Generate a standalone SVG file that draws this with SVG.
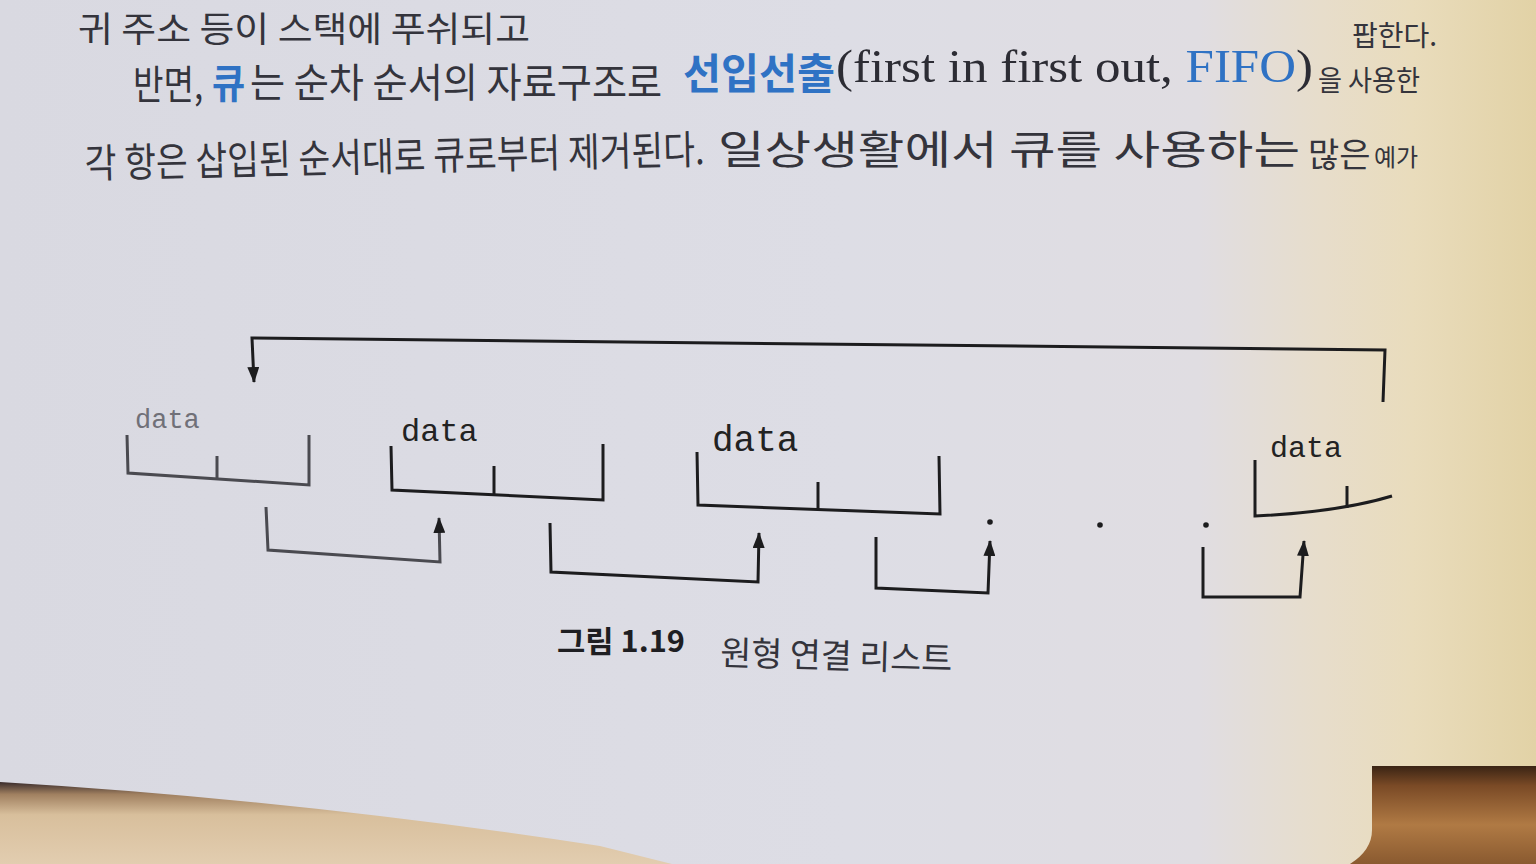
<svg xmlns="http://www.w3.org/2000/svg" width="1536" height="864" viewBox="0 0 1536 864">
<style>
.kr{font-family:"Noto Sans CJK KR","Noto Sans",sans-serif;fill:#34343c}
.sf{font-family:"Liberation Serif","DejaVu Serif",serif;fill:#2c2c34}
.bl{fill:#2f72c4}
.kr .bl,.sf .bl,.kr.bl{fill:#2f72c4}
.mono{font-family:"Liberation Mono","DejaVu Sans Mono",monospace;fill:#222}
.ln{fill:none;stroke:#1c1c1e;stroke-width:3;stroke-linejoin:miter}
.ln.lt{stroke:#4a4a50}
</style>
<defs>
<linearGradient id="pg" x1="0" y1="0" x2="1" y2="0">
<stop offset="0" stop-color="#d9d9e1"/>
<stop offset="0.55" stop-color="#dddde5"/>
<stop offset="0.78" stop-color="#e0dde2"/>
<stop offset="0.86" stop-color="#e7ddcb"/>
<stop offset="0.92" stop-color="#e9dcbc"/>
<stop offset="1" stop-color="#e2d2a6"/>
</linearGradient>
<linearGradient id="wood" x1="0" y1="0" x2="0" y2="1">
<stop offset="0" stop-color="#3a2414"/>
<stop offset="0.2" stop-color="#7a4a26"/>
<stop offset="0.6" stop-color="#b07a44"/>
<stop offset="1" stop-color="#8a5a30"/>
</linearGradient>
<linearGradient id="tbl" x1="0" y1="0" x2="0" y2="1">
<stop offset="0" stop-color="#3a2c2c"/>
<stop offset="0.15" stop-color="#a08060"/>
<stop offset="0.4" stop-color="#d8bf9c"/>
<stop offset="1" stop-color="#e2cdb0"/>
</linearGradient>
<marker id="ah" viewBox="0 0 16 12" refX="15" refY="6" markerWidth="16" markerHeight="12" markerUnits="userSpaceOnUse" orient="auto">
<path d="M0,0 L16,6 L0,12 z" fill="#1c1c1e"/>
</marker>
</defs>

<!-- page background -->
<rect x="0" y="0" width="1536" height="864" fill="url(#pg)"/>
<!-- wood at right bottom -->
<path d="M1372,766 L1536,766 L1536,864 L1350,864 Q1372,850 1372,830 Z" fill="url(#wood)"/>
<!-- table below page edge at left -->
<path d="M0,782 Q300,800 600,846 L672,864 L0,864 Z" fill="url(#tbl)"/>

<!-- body text -->
<g id="text-top">
<text class="kr" font-size="35" x="78" y="42" textLength="452" lengthAdjust="spacingAndGlyphs">귀 주소 등이 스택에 푸쉬되고</text>
<text class="kr" font-size="28" x="1352" y="46">팝한다.</text>

<text class="kr" font-size="40" transform="translate(133 99) scale(0.83 1)">반면,</text>
<text class="kr bl" font-size="40" font-weight="bold" transform="translate(212 98) scale(0.9 1)">큐</text>
<text class="kr" font-size="40" transform="translate(250 97) scale(0.955 1)">는 순차 순서의 자료구조로</text>
<text class="kr bl" font-size="42" font-weight="bold" x="683" y="89" textLength="152" lengthAdjust="spacingAndGlyphs">선입선출</text>
<text class="sf" font-size="46" x="836" y="82" textLength="477" lengthAdjust="spacingAndGlyphs">(first in first out, <tspan class="bl">FIFO</tspan>)</text>
<text class="kr" font-size="28" x="1318" y="91" textLength="102" lengthAdjust="spacingAndGlyphs">을 사용한</text>

<text class="kr" font-size="40" transform="rotate(-1.3 85 178)" x="85" y="178" textLength="620" lengthAdjust="spacingAndGlyphs">각 항은 삽입된 순서대로 큐로부터 제거된다.</text>
<text class="kr" font-size="40" x="718" y="164" textLength="582" lengthAdjust="spacingAndGlyphs">일상생활에서 큐를 사용하는</text>
<text class="kr" font-size="34" x="1308" y="167">많은</text>
<text class="kr" font-size="24" x="1374" y="166">예가</text>
</g>

<!-- connectors -->
<g id="connectors">
<path class="ln" d="M1383,402 L1385,350 L252,338 L254,382" marker-end="url(#ah)"/>
<path class="ln lt" d="M266,507 L268,550 L440,562 L439,518" marker-end="url(#ah)"/>
<path class="ln" d="M550,523 L551,572 L758,582 L759,533" marker-end="url(#ah)"/>
<path class="ln" d="M876,537 L876,588 L988,593 L990,541" marker-end="url(#ah)"/>
<path class="ln" d="M1203,547 L1203,597 L1300,597 L1304,541" marker-end="url(#ah)"/>
</g>

<!-- nodes -->
<g id="node1">
<text class="mono" style="fill:#707078" font-size="27" x="135" y="428">data</text>
<path class="ln lt" d="M127,435 L128,473 L309,485 L309,435"/>
<path class="ln lt" d="M217,456 L217,478"/>
</g>
<g id="node2">
<text class="mono" font-size="32" x="401" y="441">data</text>
<path class="ln" d="M391,446 L392,490 L603,500 L603,444"/>
<path class="ln" d="M494,466 L494,495"/>
</g>
<g id="node3">
<text class="mono" font-size="36" x="712" y="451">data</text>
<path class="ln" d="M697,452 L698,505 L940,514 L939,456"/>
<path class="ln" d="M818,482 L818,510"/>
</g>
<g id="dots">
<circle cx="990" cy="522" r="2.8" fill="#1c1c1e"/>
<circle cx="1100" cy="525" r="2.8" fill="#1c1c1e"/>
<circle cx="1206" cy="525" r="2.8" fill="#1c1c1e"/>
</g>
<g id="node4">
<text class="mono" font-size="30" x="1270" y="457">data</text>
<path class="ln" d="M1255,460 L1255,516 Q1340,512 1392,496"/>
<path class="ln" d="M1347,486 L1347,508" stroke-width="2"/>
</g>

<!-- caption -->
<g id="caption">
<text class="kr" font-size="30" font-weight="bold" x="557" y="652" textLength="128" lengthAdjust="spacingAndGlyphs" style="fill:#1e1e22">그림 1.19</text>
<text class="kr" font-size="34" transform="rotate(1.5 720 665)" x="720" y="665" textLength="232" lengthAdjust="spacingAndGlyphs">원형 연결 리스트</text>
</g>
</svg>
